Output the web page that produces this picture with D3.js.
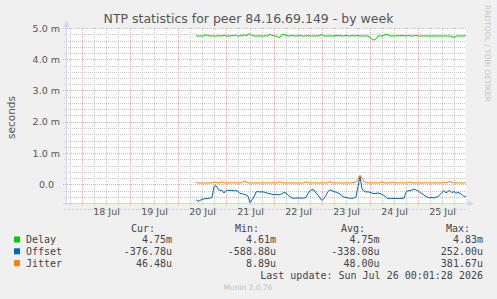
<!DOCTYPE html>
<html>
<head>
<meta charset="utf-8">
<script src="https://cdn.jsdelivr.net/npm/d3@7"></script>
<style>
  body { margin: 0; background: #f0f0f0; }
  svg { display: block; }
</style>
</head>
<body>
<div id="chart"></div>
<script>
// --- data ---
const title = "NTP statistics for peer 84.16.69.149 - by week";
const yAxisTitle = "seconds";
const seriesNames = ["Delay", "Offset", "Jitter"];
const seriesColors = ["#00cc00", "#0066b3", "#ff8000"];

// hourly samples starting 2026-07-20 09:00 UTC, in microseconds
const sampleStart = Date.UTC(2026, 6, 20, 9, 0);
const delayU = [
  4745,4745,4745,4745,4750,4790,4760,4745,4745,4745,
  4745,4750,4745,4745,4770,4745,4745,4745,4760,4745,
  4780,4730,4760,4745,4790,4745,4800,4810,4770,4745,
  4745,4745,4745,4745,4745,4750,4745,4800,4760,4745,
  4745,4710,4700,4790,4800,4760,4745,4745,4760,4745,
  4745,4745,4770,4745,4745,4745,4760,4745,4745,4745,
  4745,4745,4770,4790,4745,4745,4745,4745,4745,4745,
  4765,4745,4760,4745,4745,4770,4745,4745,4760,4745,
  4745,4765,4745,4745,4745,4745,4745,4700,4640,4610,
  4650,4745,4745,4745,4770,4800,4780,4745,4745,4745,
  4745,4760,4745,4765,4745,4745,4760,4745,4745,4745,
  4760,4745,4745,4745,4745,4745,4745,4745,4745,4745,
  4745,4745,4745,4745,4745,4745,4745,4745,4720,4700,
  4745,4745,4745,4745,4745,4750
];
const offsetU = [
  -495,-548,-520,-480,-470,-460,-455,-440,-420,-70,
  -48,-150,-200,-190,-282,-200,-190,-200,-190,-210,
  -200,-230,-290,-300,-320,-340,-380,-589,-500,-400,
  -250,-230,-250,-240,-250,-270,-290,-300,-320,-330,
  -320,-340,-330,-300,-261,-280,-350,-400,-440,-450,
  -440,-442,-440,-445,-440,-420,-300,-200,-176,-180,
  -280,-350,-440,-517,-450,-350,-230,-176,-200,-240,
  -250,-280,-310,-380,-410,-420,-440,-445,-450,-440,
  -400,-70,252,-150,-220,-250,-240,-260,-280,-300,
  -290,-280,-300,-320,-360,-410,-460,-450,-450,-455,
  -450,-455,-450,-455,-440,-250,-200,-210,-180,-155,
  -180,-210,-261,-300,-350,-389,-420,-440,-420,-440,
  -410,-400,-330,-260,-197,-280,-230,-200,-270,-230,
  -290,-250,-290,-330,-400,-377
];
const jitterU = [
  60,45,35,40,45,40,42,38,45,70,
  55,40,45,80,45,40,38,42,45,40,
  42,45,40,50,110,80,45,40,42,45,
  40,38,42,45,40,48,42,40,45,42,
  40,55,80,45,40,42,38,45,40,42,
  45,40,42,38,45,85,50,42,40,45,
  42,40,38,45,42,40,55,90,50,42,
  40,45,42,38,40,45,42,40,45,60,
  70,150,290,200,90,55,45,42,40,45,
  42,40,45,80,50,42,40,45,70,45,
  42,40,45,42,40,48,42,75,45,40,
  42,45,40,38,42,45,40,42,45,40,
  42,45,40,42,45,50,70,100,55,42,
  40,45,42,40,45,46
];

const yTicks = [0, 1, 2, 3, 4, 5];            // milliseconds
const yTickLabels = ["0.0", "1.0 m", "2.0 m", "3.0 m", "4.0 m", "5.0 m"];
const xTickDays = [18, 19, 20, 21, 22, 23, 24, 25];
const xTickLabels = ["18 Jul", "19 Jul", "20 Jul", "21 Jul", "22 Jul", "23 Jul", "24 Jul", "25 Jul"];

const legendHeaders = ["Cur:", "Min:", "Avg:", "Max:"];
const curVals = ["4.75m", "-376.78u", "46.48u"];
const minVals = ["4.61m", "-588.88u", "8.89u"];
const avgVals = ["4.75m", "-338.08u", "48.00u"];
const maxVals = ["4.83m", "252.00u", "381.67u"];
const lastUpdate = "Last update: Sun Jul 26 00:01:28 2026";
const footer = "Munin 2.0.76";
const sideText = "RRDTOOL / TOBI OETIKER";

// --- chart ---
const W = 497, H = 299;
const plot = {left: 66, right: 466, top: 28, bottom: 203};

const svg = d3.select("#chart").append("svg")
    .attr("width", W).attr("height", H)
    .style("font-family", "'DejaVu Sans', sans-serif");

svg.append("rect").attr("width", W).attr("height", H).attr("fill", "#f0f0f0");

const x = d3.scaleUtc()
    .domain([Date.UTC(2026, 6, 17, 16, 0), Date.UTC(2026, 6, 26, 0, 0)])
    .range([plot.left, plot.right]);
const y = d3.scaleLinear()
    .domain([-0.6, 5.0])
    .range([plot.bottom, plot.top]);

svg.append("rect")
    .attr("x", plot.left).attr("y", plot.top)
    .attr("width", plot.right - plot.left).attr("height", plot.bottom - plot.top)
    .attr("fill", "#ffffff");

// grid
const minorY = d3.range(-4, 26).map(d => d / 5).filter(d => Math.abs(d - Math.round(d)) > 1e-6);
const sixHours = d3.utcHour.every(6).range(x.domain()[0], x.domain()[1]).filter(d => d.getUTCHours() !== 0);
const midnights = d3.utcDay.range(x.domain()[0], x.domain()[1]);

const minorCol = "#c6c6c6", majorCol = "#f2a8a8";
const grid = svg.append("g").attr("shape-rendering", "crispEdges");
grid.selectAll(".minh").data(minorY).join("line")
    .attr("x1", plot.left - 2).attr("x2", plot.right)
    .attr("y1", d => Math.round(y(d)) + 0.5).attr("y2", d => Math.round(y(d)) + 0.5)
    .attr("stroke", minorCol).attr("stroke-dasharray", "1,1");
grid.selectAll(".minv").data(sixHours).join("line")
    .attr("x1", d => Math.round(x(d)) + 0.5).attr("x2", d => Math.round(x(d)) + 0.5)
    .attr("y1", plot.top).attr("y2", plot.bottom + 2)
    .attr("stroke", minorCol).attr("stroke-dasharray", "1,1");
grid.selectAll(".majh").data(yTicks).join("line")
    .attr("x1", plot.left - 3).attr("x2", plot.right)
    .attr("y1", d => Math.round(y(d)) + 0.5).attr("y2", d => Math.round(y(d)) + 0.5)
    .attr("stroke", majorCol).attr("stroke-dasharray", "1,1");
grid.selectAll(".majv").data(midnights).join("line")
    .attr("x1", d => Math.round(x(d)) + 0.5).attr("x2", d => Math.round(x(d)) + 0.5)
    .attr("y1", plot.top).attr("y2", plot.bottom + 3)
    .attr("stroke", majorCol).attr("stroke-dasharray", "1,1");

// axis lines + arrows
const axisCol = "#cfd6f8";
svg.append("line").attr("x1", plot.left + 0.5).attr("x2", plot.left + 0.5)
    .attr("y1", plot.bottom + 3).attr("y2", 24).attr("stroke", axisCol).attr("shape-rendering", "crispEdges");
svg.append("path").attr("d", `M${plot.left - 2.5},27 L${plot.left + 3.5},27 L${plot.left + 0.5},20 Z`).attr("fill", axisCol);
svg.append("line").attr("x1", plot.left - 3).attr("x2", plot.right + 4)
    .attr("y1", plot.bottom + 0.5).attr("y2", plot.bottom + 0.5).attr("stroke", axisCol).attr("shape-rendering", "crispEdges");
svg.append("path").attr("d", `M${plot.right + 2},${plot.bottom - 2.5} L${plot.right + 2},${plot.bottom + 3.5} L${plot.right + 8},${plot.bottom + 0.5} Z`).attr("fill", axisCol);

// series
const series = [delayU, offsetU, jitterU].map((arr, k) => ({
  name: seriesNames[k],
  color: seriesColors[k],
  values: arr.map((v, i) => ({t: new Date(sampleStart + i * 3600e3), v: v / 1000}))
}));

const line = d3.line().x(d => x(d.t)).y(d => y(d.v));
svg.append("g").selectAll("path").data(series).join("path")
    .attr("d", d => line(d.values))
    .attr("fill", "none")
    .attr("stroke", d => d.color)
    .attr("stroke-width", 1);

// axes text
const yAxis = svg.append("g")
    .attr("transform", `translate(60,0)`)
    .call(d3.axisLeft(y).tickValues(yTicks).tickFormat((d, i) => yTickLabels[i]).tickSize(0).tickPadding(0));
yAxis.select(".domain").remove();
yAxis.selectAll("text")
    .attr("dx", (d, i) => yTickLabels[i].endsWith("m") ? 0 : -6)
    .attr("fill", "#555").style("font-size", "9.5px").style("font-family", "'DejaVu Sans', sans-serif");

const noons = xTickDays.map(d => new Date(Date.UTC(2026, 6, d, 12, 0)));
const xAxis = svg.append("g")
    .attr("transform", `translate(0,${plot.bottom + 5})`)
    .call(d3.axisBottom(x).tickValues(noons).tickFormat((d, i) => xTickLabels[i]).tickSize(0).tickPadding(0));
xAxis.select(".domain").remove();
xAxis.selectAll("text")
    .attr("fill", "#555").style("font-size", "9.5px").style("font-family", "'DejaVu Sans', sans-serif");

svg.append("text")
    .attr("transform", `translate(15,${(plot.top + plot.bottom) / 2 + 2}) rotate(-90)`)
    .attr("text-anchor", "middle")
    .attr("fill", "#555").style("font-size", "10.5px")
    .text(yAxisTitle);

svg.append("text")
    .attr("x", 248.5).attr("y", 22.5)
    .attr("text-anchor", "middle")
    .attr("fill", "#555").style("font-size", "12.5px")
    .text(title);

svg.append("text")
    .attr("transform", "translate(485,5) rotate(90)")
    .attr("fill", "#c4c4c4").style("font-size", "7.5px")
    .text(sideText);

// legend
const mono = "'DejaVu Sans Mono', monospace";
const lg = svg.append("g").style("font-family", mono).style("font-size", "10px").attr("fill", "#444");
const headerX = [155, 259, 365, 470];
const colX = [172, 276, 379.5, 483];
lg.selectAll(".hdr").data(legendHeaders).join("text")
    .attr("x", (d, i) => headerX[i]).attr("y", 231.5)
    .attr("text-anchor", "end").text(d => d);

const rowY = [243, 254.8, 266.6];
series.forEach((s, k) => {
  lg.append("rect").attr("x", 14).attr("y", rowY[k] - 6.5).attr("width", 6).attr("height", 6).attr("fill", s.color);
  lg.append("text").attr("x", 26).attr("y", rowY[k]).text(s.name);
  [curVals, minVals, avgVals, maxVals].forEach((col, c) => {
    lg.append("text").attr("x", colX[c]).attr("y", rowY[k]).attr("text-anchor", "end").text(col[k]);
  });
});
lg.append("text").attr("x", 483).attr("y", 278.5).attr("text-anchor", "end").text(lastUpdate);

svg.append("text")
    .attr("x", 248).attr("y", 290)
    .attr("text-anchor", "middle")
    .attr("fill", "#c0c0c0").style("font-size", "7.5px")
    .text(footer);
</script>
</body>
</html>
